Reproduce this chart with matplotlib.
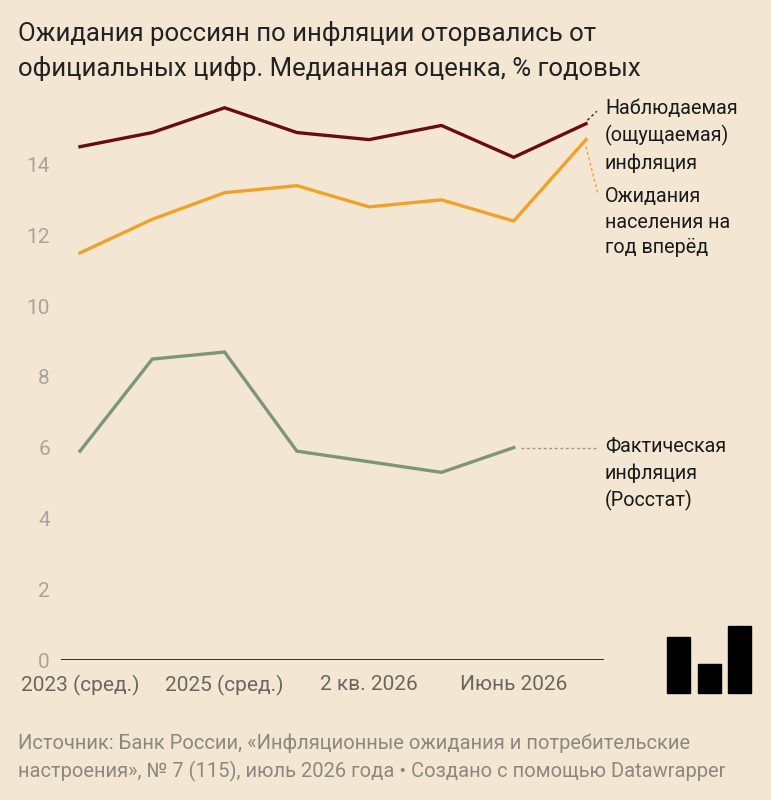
import matplotlib
matplotlib.use("Agg")
import matplotlib.pyplot as plt
from matplotlib.patches import Rectangle

plt.rcParams["font.family"] = ["Roboto", "DejaVu Sans"]

# Data (median estimate, % per year)
periods = ["2023 (сред.)", "2024 (сред.)", "2025 (сред.)", "1 кв. 2026",
           "2 кв. 2026", "Апр. 2026", "Июнь 2026", "Июль 2026"]
observed = [14.5, 14.9, 15.6, 14.9, 14.7, 15.1, 14.2, 15.15]
expected = [11.5, 12.45, 13.2, 13.4, 12.8, 13.0, 12.4, 14.7]
actual = [5.9, 8.5, 8.7, 5.9, 5.6, 5.3, 6.0]
tick_idx = [0, 2, 4, 6]
tick_labels = ["2023 (сред.)", "2025 (сред.)", "2 кв. 2026", "Июнь 2026"]
yticks = [0, 2, 4, 6, 8, 10, 12, 14]

BG = "#f3e7d3"
RED = "#6a0c0c"
ORANGE = "#f0a12a"
GREEN = "#7f957a"
W, H = 771, 800

fig = plt.figure(figsize=(W / 100, H / 100), dpi=100, facecolor=BG)

# axes: baseline from x=61 to 604 px, y=0 at 660 px, 35.4 px per unit
px_per_x = 72.3
xl = (0 - (80 - 61) / px_per_x, 7 + (604 - 586) / px_per_x)
ymax = 16
ax = fig.add_axes([61 / W, (H - 660) / H, 543 / W, ymax * 35.4 / H])
ax.set_facecolor(BG)
ax.set_xlim(*xl)
ax.set_ylim(0, ymax)
for s in ax.spines.values():
    s.set_visible(False)

x_all = list(range(len(observed)))
ax.plot(x_all, observed, color=RED, lw=2.4, solid_joinstyle="miter", zorder=5)
ax.plot(x_all, expected, color=ORANGE, lw=2.4, solid_joinstyle="miter", zorder=4)
ax.plot(range(len(actual)), actual, color=GREEN, lw=2.4, solid_joinstyle="miter", zorder=4)

ax.axhline(0, color="#333333", lw=1.4, zorder=6)

ax.set_yticks(yticks)
ax.set_yticklabels([str(v) for v in yticks])
ax.tick_params(axis="y", length=0, pad=8, labelsize=15, labelcolor="#a9a49b")
ax.set_xticks(tick_idx)
ax.set_xticklabels(tick_labels)
ax.tick_params(axis="x", length=0, pad=11, labelsize=15, labelcolor="#6b6760")

# leader lines
ax.plot([7.02, 7.15], [15.25, 15.5], color=RED, lw=1, ls=(0, (2, 2)), clip_on=False)
ax.plot([7.0, 7.16], [14.5, 13.2], color=ORANGE, lw=1, ls=(0, (2, 2)), clip_on=False)
ax.plot([6.1, 7.15], [actual[-1], actual[-1]], color="#9a968e", lw=1, ls=(0, (2, 2)), clip_on=False)

# direct labels
lab_kw = dict(fontsize=14.2, color="#1a1a1a", va="center", ha="left", linespacing=1.45)
fig.text(605 / W, 1 - 136 / H, "Наблюдаемая\n(ощущаемая)\nинфляция", **lab_kw)
fig.text(605 / W, 1 - 222 / H, "Ожидания\nнаселения на\nгод вперёд", **lab_kw)
fig.text(605 / W, 1 - 474 / H, "Фактическая\nинфляция\n(Росстат)", **lab_kw)

# title
fig.text(18 / W, 1 - 51 / H, "Ожидания россиян по инфляции оторвались от\n"
         "официальных цифр. Медианная оценка, % годовых",
         fontsize=18.5, color="#222222", va="center", ha="left", linespacing=1.5)

# source
fig.text(18 / W, 1 - 758 / H, "Источник: Банк России, «Инфляционные ожидания и потребительские\n"
         "настроения», № 7 (115), июль 2026 года • Создано с помощью Datawrapper",
         fontsize=14.5, color="#8c8880", va="center", ha="left", linespacing=1.48)

# logo
for x0, x1, top in [(667, 690, 637), (698, 721, 664), (728, 751, 626)]:
    fig.patches.append(Rectangle((x0 / W, (H - 693) / H), (x1 - x0) / W, (693 - top) / H,
                                 transform=fig.transFigure, color="black", figure=fig))

fig.savefig("out.png", dpi=100, facecolor=BG)
